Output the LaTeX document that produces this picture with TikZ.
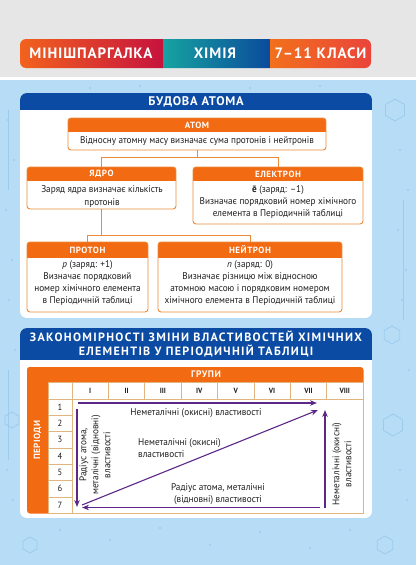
\documentclass[tikz,border=0pt]{standalone}
\usepackage{fontspec}
\setmainfont{PT Sans}
\newfontfamily\condf[FakeStretch=0.95]{PT Sans}
\newfontfamily\hdrf[LetterSpace=6]{PT Sans}
\newfontfamily\hdrwf[LetterSpace=11]{PT Sans}
\usetikzlibrary{arrows.meta,fit,calc}
\definecolor{bgblue}{HTML}{B7DDF6}
\definecolor{doodle}{HTML}{9CCBEE}
\definecolor{hblue}{HTML}{0B4BA3}
\definecolor{ora}{HTML}{F26A12}
\definecolor{oline}{HTML}{EA8A3A}
\definecolor{tanl}{HTML}{E2B47E}
\definecolor{purp}{HTML}{5C2787}
\definecolor{topgray}{HTML}{E6E6E6}
\definecolor{txt}{HTML}{1E1E1E}
\definecolor{bAa}{HTML}{F2621E}
\definecolor{bAb}{HTML}{C6123E}
\definecolor{bBa}{HTML}{16A3A0}
\definecolor{bBb}{HTML}{0B4A9C}
\definecolor{bCa}{HTML}{F2701C}
\definecolor{bCb}{HTML}{EA443A}
\tikzset{
  bantxt/.style={text=white,font=\hdrf\bfseries\fontsize{15}{17}\selectfont,inner sep=0pt},
  sectitle/.style={text=white,font=\hdrf\bfseries\fontsize{12.5}{14}\selectfont,inner sep=0pt,align=center},
  boxtitle/.style={text=white,font=\hdrf\bfseries\fontsize{9}{10}\selectfont,inner sep=0pt},
  body/.style={text=txt,font=\condf\fontsize{9.7}{12.2}\selectfont,inner sep=0pt,align=center},
  boxframe/.style={inner sep=0pt,draw=oline,line width=0.9pt,rounded corners=3pt},
  conn/.style={draw=oline,line width=0.9pt},
  grid/.style={draw=tanl,line width=0.6pt},
  parr/.style={draw=purp,line width=1.1pt,-{Stealth[length=7pt,width=5.5pt]}},
  tlabel/.style={text=txt,font=\condf\fontsize{9.7}{12}\selectfont,inner sep=0pt,align=center},
  gnum/.style={text=txt,font=\condf\bfseries\fontsize{7.5}{8}\selectfont,inner sep=0pt},
  pnum/.style={text=txt,font=\condf\fontsize{9}{10}\selectfont,inner sep=0pt},
  doodlestyle/.style={draw=doodle,line width=0.8pt}
}
\newcommand\obox[7]{%
  \begin{scope}
    \clip[rounded corners=3pt] (#2,#3) rectangle (#4,#5);
    \fill[white] (#2,#3) rectangle (#4,#5);
    \fill[ora] (#2,#3) rectangle (#4,#6);
  \end{scope}
  \node[boxframe,fit={(#2,#3)(#4,#5)}] (#1) {};
  \node[boxtitle] (#1-t) at ($(#2,#3)!0.5!(#4,#6)$) {#7};
}
\begin{document}
\begin{tikzpicture}[x=1pt,y=-1pt]
\useasboundingbox (0,0) rectangle (416,565);
\fill[topgray] (0,0) rectangle (416,77);
\fill[white] (0,77) rectangle (416,80);
\fill[bgblue] (0,80) rectangle (416,565);
% faint doodles
\foreach \cx/\cy/\r in {395/110/11, 392/335/9, 393/425/11, 12/420/8, 385/545/9, 30/545/8}
  \draw[doodlestyle] (\cx,\cy) +(30:\r) -- +(90:\r) -- +(150:\r) -- +(210:\r) -- +(270:\r) -- +(330:\r) -- cycle;
\foreach \cx/\cy in {8/120,14/160,6/210,12/260,9/300,15/350,7/470,13/500,400/150,408/190,398/230,406/270,402/300,409/370,400/470,407/500,60/530,110/540,160/528,210/545,260/532,310/548,350/530,90/88,140/86,250/88,320/86}
  \fill[doodle] (\cx,\cy) circle (1.2pt);
\draw[doodlestyle] (8,110) -- (8,190);
\draw[doodlestyle] (8,370) -- (8,460);
\draw[doodlestyle] (403,200) -- (403,320);
% banner
\begin{scope}
  \clip[rounded corners=6pt] (20,39) rectangle (371,68);
  \shade[left color=bAa,right color=bAb] (20,39) rectangle (163,68);
  \shade[left color=bBa,right color=bBb] (163,39) rectangle (270,68);
  \shade[left color=bCa,right color=bCb] (270,39) rectangle (371,68);
\end{scope}
\node[bantxt] (ban1) at (91,53.5) {МІНІШПАРГАЛКА};
\node[bantxt] (ban2) at (215,53.5) {ХІМІЯ};
\node[bantxt] (ban3) at (320.5,53.5) {7–11 КЛАСИ};
% section 1 panel
\begin{scope}
  \clip[rounded corners=7pt] (20,93) rectangle (372,318);
  \fill[white] (20,93) rectangle (372,318);
  \fill[hblue] (20,93) rectangle (372,110);
\end{scope}
\node[sectitle] (s1) at (196,102) {БУДОВА АТОМА};
% boxes
\obox{atom}{68}{118}{326}{150}{132}{АТОМ}
\node[body] (atom-b) at (197,141.5) {Відносну атомну масу визначає сума протонів і нейтронів};
\obox{yadro}{27}{167}{176}{209}{181}{ЯДРО}
\node[body] (yadro-b) at (102,196.5) {Заряд ядра визначає кількість\\протонів};
\obox{elek}{193}{167}{363}{224}{181}{ЕЛЕКТРОН}
\node[body] (elek-b) at (278,202) {{\bfseries ē} (заряд: –1)\\Визначає порядковий номер хімічного\\елемента в Періодичній таблиці};
\obox{prot}{27}{242}{148}{312}{258}{ПРОТОН}
\node[body] (prot-b) at (87.5,283) {\textit{p} (заряд: +1)\\Визначає порядковий\\номер хімічного елемента\\в Періодичній таблиці};
\obox{neut}{158}{242}{342}{312}{258}{НЕЙТРОН}
\node[body] (neut-b) at (250,283) {\textit{n} (заряд: 0)\\Визначає різницю між відносною\\атомною масою і порядковим номером\\хімічного елемента в Періодичній таблиці};
% connectors
\draw[conn] (yadro.north) -- ++(0,-9) coordinate (j1) -| (elek.north);
\draw[conn] (atom.south) -- (atom.south |- j1);
\draw[conn] (prot.north) -- ++(0,-6) coordinate (j2) -| (neut.north);
\draw[conn] (yadro.south) -- (yadro.south |- j2);
% section 2 panel
\begin{scope}
  \clip[rounded corners=7pt] (20,328) rectangle (372,518);
  \fill[white] (20,328) rectangle (372,518);
  \fill[hblue] (20,328) rectangle (372,360);
\end{scope}
\node[sectitle,font=\hdrwf\bfseries\fontsize{12}{14}\selectfont] (s2) at (196,344) {ЗАКОНОМІРНОСТІ ЗМІНИ ВЛАСТИВОСТЕЙ ХІМІЧНИХ\\ЕЛЕМЕНТІВ У ПЕРІОДИЧНІЙ ТАБЛИЦІ};
% table
\begin{scope}
  \clip[rounded corners=3pt] (27,367) rectangle (363.5,513.5);
  \fill[ora] (27,367) rectangle (363.5,382);
  \fill[ora] (27,367) rectangle (48,513.5);
\end{scope}
\draw[grid] (48,382) rectangle (363,513);
\draw[grid] (48,399) -- (363,399);
\draw[grid] (72,382) -- (72,513);
\foreach \i in {1,...,7} \draw[grid] ({72+36.375*\i},382) -- ({72+36.375*\i},399);
\foreach \k in {1,...,6} \draw[grid] (48,{399+16.3*\k}) -- (72,{399+16.3*\k});
\foreach \g [count=\i] in {I,II,III,IV,V,VI,VII,VIII}
  \node[gnum] (g\i) at ({72+36.375*(\i-0.5)},390.5) {\g};
\foreach \k in {1,...,7}
  \node[pnum] (p\k) at (60,{399+16.3*(\k-0.5)}) {\k};
\node[boxtitle,font=\hdrf\bfseries\fontsize{9.5}{10}\selectfont] (grp) at (206,374.5) {ГРУПИ};
\node[boxtitle,font=\hdrf\bfseries\fontsize{9}{10}\selectfont,rotate=90] (per) at (37.5,440) {ПЕРІОДИ};
% arrows
\coordinate (a1s) at (78,403);
\coordinate (a1e) at (317,403);
\coordinate (a2s) at (77,409);
\coordinate (a2e) at (77,507);
\coordinate (a3s) at (82,505);
\coordinate (a3e) at (318,410);
\coordinate (a4s) at (320,507.5);
\coordinate (a4e) at (82,507.5);
\coordinate (a5s) at (325,507.5);
\coordinate (a5e) at (325,410);
\draw[parr] (a1s) -- (a1e);
\draw[parr] (a2s) -- (a2e);
\draw[parr] (a3s) -- (a3e);
\draw[parr] (a4s) -- (a4e);
\draw[parr] (a5s) -- (a5e);
\node[tlabel] (l1) at (196,413) {Неметалічні (окисні) властивості};
\node[tlabel,align=left,anchor=west] (l2) at (138,448.5) {Неметалічні (окисні)\\властивості};
\node[tlabel] (l3) at (218,494) {Радіус атома, металічні\\(відновні) властивості};
\node[tlabel,rotate=90] (l4) at (95,455) {Радіус атома,\\металічні (відновні)\\властивості};
\node[tlabel,rotate=90] (l5) at (342,464) {Неметалічні (окисні)\\властивості};
\end{tikzpicture}
\end{document}
